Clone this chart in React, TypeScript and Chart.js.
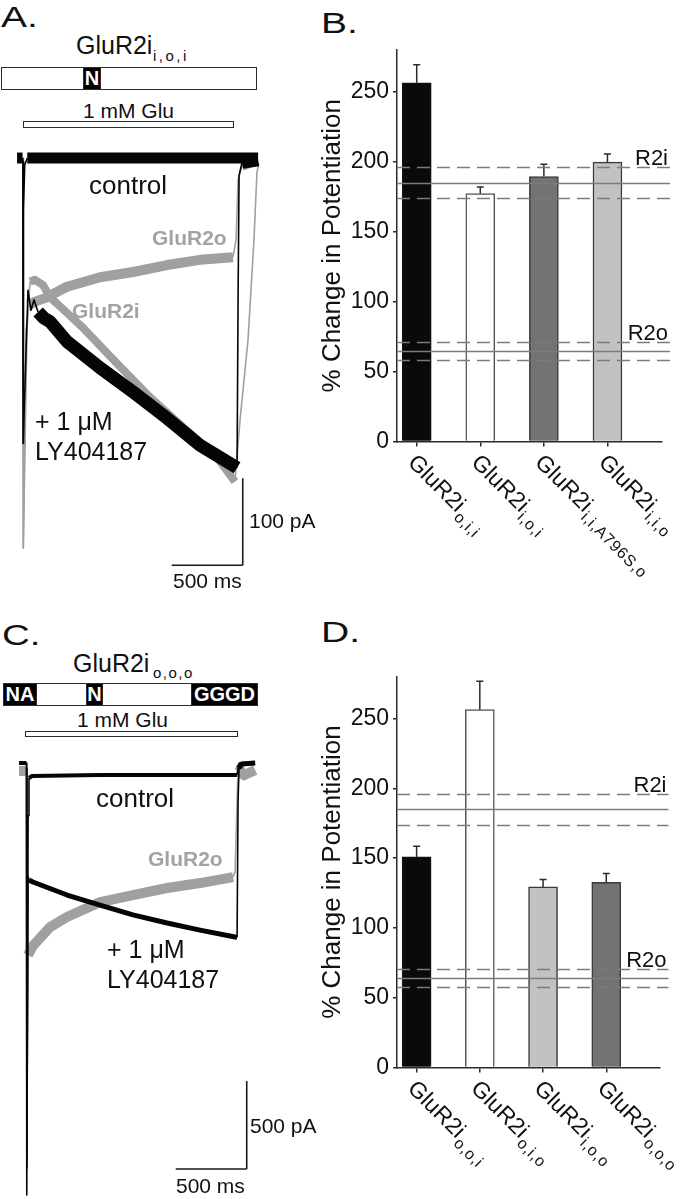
import React, { useEffect, useRef } from "react";
import { Chart, registerables } from "chart.js";
Chart.register(...registerables);

const FONT = '"Liberation Sans", Arial, Helvetica, sans-serif';
const INK = "#111111";
const GRAY_TRACE = "#a0a0a0";
const GRAY_TEXT = "#a3a3a3";
const AXIS = "#2b2b2b";

// ---------- Bar panels (B, D) ----------
const B_NAMES = ["GluR2i", "GluR2i", "GluR2i", "GluR2i"];
const B_SUBS = ["o,i,i", "i,o,i", "i,i,A796S,o", "i,i,o"];
const B_VALUES = [256.5, 177.3, 189.5, 199.8];
const B_ERRORS = [13.0, 4.7, 8.8, 5.9];

const D_NAMES = ["GluR2i", "GluR2i", "GluR2i", "GluR2i"];
const D_SUBS = ["o,o,i", "o,i,o", "i,o,o", "o,o,o"];
const D_VALUES = [150.9, 256.4, 129.4, 132.6];
const D_ERRORS = [7.7, 20.3, 5.3, 6.4];

const Y_TICKS = [0, 50, 100, 150, 200, 250];
const Y_MAX = 280;
// reference bands: mean, upper, lower
const R2I_LINES = [185, 196, 174];
const R2O_LINES = [64.4, 70.9, 58.0];

// ---------- Trace panel A (time ms, current pA) ----------
const A_CTRL_T = [-42, -3, 0, 1, 5, 12, 30, 1655];
const A_CTRL_I = [0, 0, -4, -328, -60, -8, 0, 0];
const A_LY_T = [0, 1, 35, 56, 77, 106, 148, 190, 310, 542, 775, 1014, 1246, 1507, 1514, 1521, 1542, 1655];
const A_LY_I = [-4, -328, -152, -175, -163, -177, -184, -188, -211, -241, -269, -299, -330, -356, -163, -20, -5, -2];
const A_R2I_T = [0, 2, 28, 49, 84, 141, 190, 310, 422, 662, 894, 1126, 1366, 1492, 1528, 1584, 1626, 1647, 1661];
const A_R2I_I = [0, -448, -198, -142, -140, -146, -160, -178, -195, -236, -275, -309, -344, -372, -301, -209, -94, -16, -6];
const A_R2O_T = [0, 2, 21, 42, 84, 155, 310, 542, 775, 1014, 1246, 1478, 1500, 1514, 1542, 1647];
const A_R2O_I = [0, -448, -198, -169, -165, -161, -148, -137, -131, -123, -117, -114, -94, -25, -9, -2];
const A_SCALE_T = [1047, 1547, 1547];
const A_SCALE_I = [-468, -468, -368];

// ---------- Trace panel C ----------
const C_CTRL_T = [-54, -2, 0, 1, 10, 16, 37, 516, 1481, 1488, 1502, 1608];
const C_CTRL_I = [0, 0, -30, -2454, -300, -85, -74, -68, -68, -28, -6, 0];
const C_LY_T = [0, 1, 9, 16, 44, 284, 516, 748, 988, 1220, 1467, 1481, 1488, 1495, 1516, 1608];
const C_LY_I = [-30, -2300, -642, -665, -676, -750, -807, -863, -909, -949, -988, -990, -210, -28, -6, 0];
const C_R2O_T = [-54, -2, 0, 2, 9, 44, 164, 284, 516, 748, 988, 1220, 1453, 1467, 1481, 1488, 1502, 1530, 1608];
const C_R2O_I = [-45, -45, -100, -2198, -1091, -1039, -932, -875, -790, -750, -710, -682, -648, -619, -210, -51, -40, -70, -40];
const C_SCALE_T = [1049, 1549, 1549];
const C_SCALE_I = [-2306, -2306, -1806];

type Trace = { t: number[]; i: number[]; color: string; width: number };

function TracePanel(props: {
  top: number; height: number; tMin: number; tMax: number; iMin: number; iMax: number; traces: Trace[];
}) {
  const ref = useRef<HTMLCanvasElement>(null);
  useEffect(() => {
    const { tMin, tMax, iMin, iMax, traces } = props;
    const chart = new Chart(ref.current as HTMLCanvasElement, {
      type: "line",
      data: {
        datasets: traces.map((tr) => ({
          data: tr.t.map((t, k) => ({ x: t, y: tr.i[k] })),
          borderColor: tr.color,
          backgroundColor: tr.color,
          borderWidth: tr.width,
          pointRadius: 0,
          tension: 0,
          fill: false,
          borderJoinStyle: "round",
          segment: {
            borderWidth: (c: any) => {
              const dx = Math.abs(c.p1.x - c.p0.x);
              const dy = Math.abs(c.p1.y - c.p0.y);
              return dy > 2.5 * dx ? 1.6 : tr.width;
            },
          },
        })) as any,
      },
      options: {
        responsive: false,
        animation: false,
        devicePixelRatio: 1,
        events: [],
        layout: { padding: 0 },
        plugins: { legend: { display: false }, tooltip: { enabled: false } },
        scales: {
          x: { type: "linear", display: false, min: tMin, max: tMax },
          y: { type: "linear", display: false, min: iMin, max: iMax },
        },
      },
    });
    return () => chart.destroy();
  }, []);
  return (
    <canvas
      ref={ref}
      width={300}
      height={props.height}
      style={{ position: "absolute", left: 0, top: props.top, width: 300, height: props.height }}
    />
  );
}

function borderFor(c: string) {
  if (c === "#ffffff") return "#555555";
  if (c === "#0a0a0a") return "#111111";
  return "#3a3a3a";
}

function BarPanel(props: {
  top: number; height: number; padTop: number; xHeight: number; padRight: number;
  names: string[]; subs: string[]; values: number[]; errors: number[]; colors: string[];
}) {
  const ref = useRef<HTMLCanvasElement>(null);
  useEffect(() => {
    const { names, subs, values, errors, colors, padTop, xHeight, padRight } = props;
    const decor = {
      id: "decor",
      afterDatasetsDraw(chart: any) {
        const { ctx, chartArea, scales } = chart;
        const x = scales.x, y = scales.y;
        ctx.save();
        // error bars
        ctx.strokeStyle = AXIS;
        ctx.lineWidth = 1.5;
        values.forEach((v, i) => {
          const px = x.getPixelForValue(i);
          const y0 = y.getPixelForValue(v);
          const y1 = y.getPixelForValue(v + errors[i]);
          ctx.beginPath();
          ctx.moveTo(px, y0);
          ctx.lineTo(px, y1);
          ctx.moveTo(px - 3.5, y1);
          ctx.lineTo(px + 3.5, y1);
          ctx.stroke();
        });
        // reference lines
        const right = chartArea.right + 8.5;
        const groups: [number[], string][] = [[R2I_LINES, "R2i"], [R2O_LINES, "R2o"]];
        groups.forEach(([ref, label]) => {
          ctx.strokeStyle = "#7c7c7c";
          ctx.lineWidth = 1.5;
          ref.forEach((v, k) => {
            ctx.setLineDash(k === 0 ? [] : [13, 7]);
            const py = Math.round(y.getPixelForValue(v)) + 0.5;
            ctx.beginPath();
            ctx.moveTo(chartArea.left, py);
            ctx.lineTo(right, py);
            ctx.stroke();
          });
          ctx.setLineDash([]);
          ctx.fillStyle = INK;
          ctx.font = `22px ${FONT}`;
          ctx.textAlign = "right";
          ctx.textBaseline = "alphabetic";
          ctx.fillText(label, right - 2, y.getPixelForValue(ref[1]) - 2);
        });
        ctx.restore();
      },
      afterDraw(chart: any) {
        const { ctx, chartArea, scales } = chart;
        const x = scales.x;
        names.forEach((name, i) => {
          const px = x.getPixelForValue(i);
          ctx.save();
          ctx.translate(px - 10, chartArea.bottom + 22);
          ctx.rotate(Math.PI / 4);
          ctx.fillStyle = INK;
          ctx.textAlign = "left";
          ctx.textBaseline = "alphabetic";
          ctx.font = `23px ${FONT}`;
          ctx.fillText(name, 0, 0);
          const w = ctx.measureText(name).width;
          ctx.font = `16px ${FONT}`;
          let cx = w + 1;
          for (const ch of subs[i]) {
            ctx.fillText(ch, cx, 6);
            cx += ctx.measureText(ch).width + 0.8;
          }
          ctx.restore();
        });
      },
    };
    const chart = new Chart(ref.current as HTMLCanvasElement, {
      type: "bar",
      data: {
        datasets: [
          {
            data: values.map((v, i) => ({ x: i, y: v })),
            backgroundColor: colors,
            borderColor: colors.map(borderFor),
            borderWidth: 1.5,
            barThickness: 29,
            borderSkipped: "bottom",
          } as any,
        ],
      },
      options: {
        responsive: false,
        animation: false,
        devicePixelRatio: 1,
        events: [],
        layout: { padding: { top: padTop, right: padRight, left: 0, bottom: 0 } },
        plugins: { legend: { display: false }, tooltip: { enabled: false } },
        scales: {
          x: {
            type: "linear",
            offset: false,
            min: -0.31,
            max: 3.85,
            afterBuildTicks: (s: any) => {
              s.ticks = values.map((_, i) => ({ value: i }));
            },
            ticks: { display: false },
            grid: { display: true, offset: false, drawOnChartArea: false, drawTicks: true, tickLength: 5, color: AXIS, lineWidth: 1.5 },
            border: { display: true, color: AXIS, width: 1.5 },
            afterFit: (s: any) => {
              s.height = xHeight;
            },
          } as any,
          y: {
            type: "linear",
            min: 0,
            max: Y_MAX,
            afterBuildTicks: (s: any) => {
              s.ticks = Y_TICKS.map((v) => ({ value: v }));
            },
            ticks: { font: { family: FONT, size: 23 }, color: INK, padding: 4 },
            grid: { display: true, drawOnChartArea: false, drawTicks: true, tickLength: 4, color: AXIS, lineWidth: 1.5 },
            border: { display: true, color: AXIS, width: 1.5 },
            title: {
              display: true,
              text: "% Change in Potentiation",
              font: { family: FONT, size: 26 },
              color: INK,
              padding: { top: 17, bottom: 0 },
            },
            afterFit: (s: any) => {
              s.width = 97;
            },
          } as any,
        },
      },
      plugins: [decor],
    });
    return () => chart.destroy();
  }, []);
  return (
    <canvas
      ref={ref}
      width={380}
      height={props.height}
      style={{ position: "absolute", left: 300, top: props.top, width: 380, height: props.height }}
    />
  );
}

function T(props: {
  x: number; b: number; size: number; children: React.ReactNode; bold?: boolean; color?: string; sx?: number; ls?: number;
}) {
  const { x, b, size, bold, color, sx, ls } = props;
  return (
    <div
      style={{
        position: "absolute",
        left: x,
        top: b - size * 0.8465,
        fontSize: size,
        lineHeight: `${size}px`,
        fontFamily: FONT,
        fontWeight: bold ? "bold" : "normal",
        color: color || INK,
        whiteSpace: "nowrap",
        letterSpacing: ls ? `${ls}px` : undefined,
        transform: sx ? `scaleX(${sx})` : undefined,
        transformOrigin: "left",
      }}
    >
      {props.children}
    </div>
  );
}

function Box(props: { x: number; y: number; w: number; h: number; fill?: string; children?: React.ReactNode }) {
  return (
    <div
      style={{
        position: "absolute",
        left: props.x,
        top: props.y,
        width: props.w,
        height: props.h,
        boxSizing: "border-box",
        border: `1.5px solid ${AXIS}`,
        background: props.fill || "#ffffff",
        color: "#ffffff",
        fontFamily: FONT,
        fontWeight: "bold",
        fontSize: 20,
        lineHeight: `${props.h - 3}px`,
        textAlign: "center",
        overflow: "hidden",
      }}
    >
      {props.children}
    </div>
  );
}

export default function App() {
  return (
    <div
      style={{
        position: "absolute",
        left: 0,
        top: 0,
        width: 680,
        height: 1199,
        background: "#ffffff",
        overflow: "hidden",
        fontFamily: FONT,
      }}
    >
      {/* ---------- Panel A ---------- */}
      <T x={1} b={27} size={30} sx={1.3}>A.</T>
      <T x={76} b={54} size={25}>GluR2i</T>
      <T x={153} b={61} size={15} ls={2.5}>i,o,i</T>
      <Box x={1} y={67} w={256} h={23} />
      <Box x={83} y={67} w={18} h={23} fill="#000000">N</Box>
      <T x={83} b={118} size={21}>1 mM Glu</T>
      <Box x={23} y={121} w={211} h={7} />
      <TracePanel
        top={130}
        height={470}
        tMin={-162}
        tMax={1950}
        iMin={-507.9}
        iMax={32.2}
        traces={[
          { t: A_SCALE_T, i: A_SCALE_I, color: "#1a1a1a", width: 1.5 },
          { t: A_LY_T, i: A_LY_I, color: "#050505", width: 13 },
          { t: A_CTRL_T, i: A_CTRL_I, color: "#050505", width: 11 },
          { t: A_R2I_T, i: A_R2I_I, color: GRAY_TRACE, width: 8 },
          { t: A_R2O_T, i: A_R2O_I, color: GRAY_TRACE, width: 10 },
        ]}
      />
      <T x={89} b={194} size={26}>control</T>
      <T x={152} b={245} size={21} bold color={GRAY_TEXT}>GluR2o</T>
      <T x={72} b={318} size={21} bold color={GRAY_TEXT}>GluR2i</T>
      <T x={35} b={430} size={25}>+ 1 μM</T>
      <T x={35} b={460} size={25}>LY404187</T>
      <T x={249} b={528} size={21}>100 pA</T>
      <T x={173} b={588} size={21}>500 ms</T>

      {/* ---------- Panel B ---------- */}
      <T x={321} b={33} size={30} sx={1.3}>B.</T>
      <BarPanel
        top={0}
        height={600}
        padTop={50}
        xHeight={158.5}
        padRight={18.5}
        names={B_NAMES}
        subs={B_SUBS}
        values={B_VALUES}
        errors={B_ERRORS}
        colors={["#0a0a0a", "#ffffff", "#737373", "#c2c2c2"]}
      />

      {/* ---------- Panel C ---------- */}
      <T x={2} b={645} size={30} sx={1.28}>C.</T>
      <T x={73} b={672} size={25}>GluR2i</T>
      <T x={153} b={678} size={15} ls={1.5}>o,o,o</T>
      <Box x={3} y={683} w={255} h={23} />
      <Box x={3} y={683} w={34} h={23} fill="#000000">NA</Box>
      <Box x={86} y={683} w={17} h={23} fill="#000000">N</Box>
      <Box x={191} y={683} w={67} h={23} fill="#000000">GGGD</Box>
      <T x={77} b={727} size={21}>1 mM Glu</T>
      <Box x={25} y={731} w={213} h={6} />
      <TracePanel
        top={740}
        height={459}
        tMin={-188}
        tMax={1924}
        iMin={-2476.5}
        iMax={130.6}
        traces={[
          { t: C_SCALE_T, i: C_SCALE_I, color: "#1a1a1a", width: 1.5 },
          { t: C_LY_T, i: C_LY_I, color: "#050505", width: 5 },
          { t: C_CTRL_T, i: C_CTRL_I, color: "#050505", width: 4 },
          { t: C_R2O_T, i: C_R2O_I, color: GRAY_TRACE, width: 10 },
        ]}
      />
      <T x={96} b={807} size={26}>control</T>
      <T x={148} b={866} size={21} bold color={GRAY_TEXT}>GluR2o</T>
      <T x={107} b={958} size={25}>+ 1 μM</T>
      <T x={107} b={988} size={25}>LY404187</T>
      <T x={250} b={1133} size={21}>500 pA</T>
      <T x={176} b={1193} size={21}>500 ms</T>

      {/* ---------- Panel D ---------- */}
      <T x={321} b={642} size={30} sx={1.3}>D.</T>
      <BarPanel
        top={600}
        height={599}
        padTop={76.7}
        xHeight={131.5}
        padRight={20}
        names={D_NAMES}
        subs={D_SUBS}
        values={D_VALUES}
        errors={D_ERRORS}
        colors={["#0a0a0a", "#ffffff", "#c2c2c2", "#737373"]}
      />
    </div>
  );
}
